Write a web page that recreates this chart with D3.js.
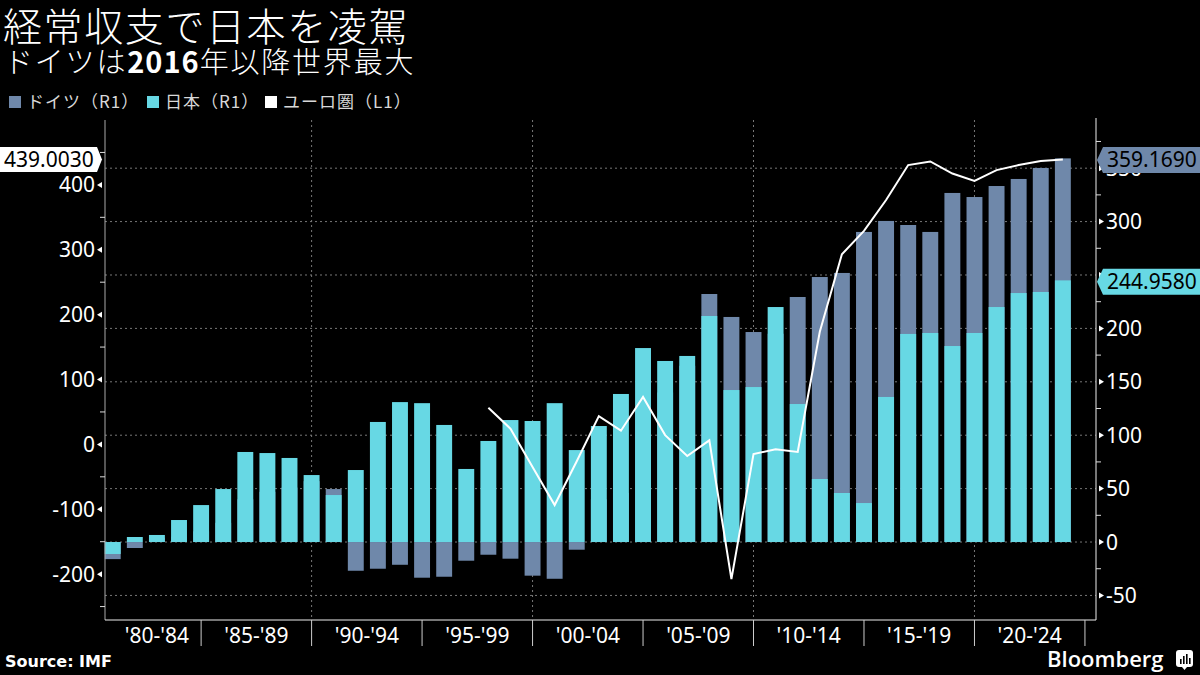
<!DOCTYPE html>
<html><head><meta charset="utf-8">
<script src="https://cdn.jsdelivr.net/npm/d3@7"></script>
<style>body{margin:0;background:#000;} svg{display:block;}</style>
</head><body>
<svg id="c" width="1200" height="675"></svg>
<script>
const years = d3.range(1980, 2024);
const germany = [-16, -5.6, 4, 5, 10, 18, 40, 47, 51, 57, 49.6, -26.9, -25, -21.3, -33.4, -32.5, -17.5, -11.9, -15.6, -31.5, -34.4, -7.2, 40, 46, 127, 140, 165, 232.2, 210.7, 196.6, 195, 229.4, 248.1, 251.9, 290.3, 300.6, 296.8, 290.3, 326.8, 323.0, 333.3, 339.9, 350.2, 359.169];
const japan = [-11.2, 4.7, 6.6, 20.6, 34.6, 49.6, 84.3, 83.3, 78.7, 62.7, 44.0, 67.4, 112.4, 131.0, 130.0, 109.6, 68.4, 94.6, 114.2, 113.3, 130.0, 86.1, 108.6, 138.6, 181.6, 169.5, 174.2, 211.6, 142.3, 145.1, 220.0, 129.2, 59.0, 45.9, 36.5, 135.8, 194.8, 195.7, 183.5, 195.7, 220.0, 233.1, 234.1, 244.958];
const euroYears = d3.range(1997, 2024);
const euro = [56.4, 24.2, -35, -93.5, -26, 43.6, 21.1, 73, 14.3, -18, 6.2, -207.7, -14.9, -7.6, -11.6, 173.5, 293, 329, 376.7, 430.5, 436.1, 417.5, 406.2, 422.8, 430.5, 436.7, 439.003];
const groupStarts = [1980, 1985, 1990, 1995, 2000, 2005, 2010, 2015, 2020];
const groupLabels = ["'80-'84", "'85-'89", "'90-'94", "'95-'99", "'00-'04", "'05-'09", "'10-'14", "'15-'19", "'20-'24"];
const leftTicks = [-200, -100, 0, 100, 200, 300, 400];
const leftMinor = [-250, -150, -50, 50, 150, 250, 350, 450];
const rightTicks = [-50, 0, 50, 100, 150, 200, 250, 300, 350];
const rightMinor = [-25, 25, 75, 125, 175, 225, 275, 325, 375];
const legendItems = [
  {label: "ドイツ（R1）", color: "#6f88aa"},
  {label: "日本（R1）", color: "#67d8e4"},
  {label: "ユーロ圏（L1）", color: "#ffffff"}
];

const GER = "#6f88aa", JPN = "#67d8e4";
const NUM = "'Noto Sans', 'Open Sans', sans-serif";
const CJK = "'Noto Sans CJK JP', 'Noto Sans', sans-serif";

const svg = d3.select('#c');
svg.append('rect').attr('width', 1200).attr('height', 675).attr('fill', '#000');

const L = 105, R = 1096, T = 120, B = 620;
const x = d3.scaleLinear().domain([1979.65, 2024.5]).range([L, R]);
const yL = d3.scaleLinear().domain([-270.7, 500]).range([B, T]);
const yR = d3.scaleLinear().domain([-73, 395.1]).range([B, T]);
const bw = (x(1) - x(0)) * 0.72;

// title
svg.append('text').attr('x', 3).attr('y', 41).attr('fill', '#fff')
  .style('font-family', CJK).style('font-size', '39px').style('font-weight', 300)
  .style('letter-spacing', '1.6px')
  .text('経常収支で日本を凌駕');
const sub = svg.append('text').attr('x', 4).attr('y', 73).attr('fill', '#fff')
  .style('font-family', CJK).style('font-size', '29px').style('font-weight', 300)
  .style('letter-spacing', '1.8px');
sub.append('tspan').text('ドイツは');
sub.append('tspan').style('font-weight', 700).style('letter-spacing', '1px').text('2016');
sub.append('tspan').text('年以降世界最大');

// legend
const legX = [9, 147, 265];
legendItems.forEach((d, i) => {
  svg.append('rect').attr('x', legX[i]).attr('y', 96).attr('width', 12).attr('height', 12).attr('fill', d.color);
  svg.append('text').attr('x', legX[i] + 18).attr('y', 108).attr('fill', '#d8d8d8')
    .style('font-family', CJK).style('font-size', '17px').style('letter-spacing', '1px').text(d.label);
});

// gridlines horizontal (right axis)
const grid = svg.append('g');
grid.selectAll('line.h').data(rightTicks).enter().append('line')
  .attr('x1', L).attr('x2', R).attr('y1', d => yR(d)).attr('y2', d => yR(d))
  .attr('stroke', '#777').attr('stroke-width', 1).attr('stroke-dasharray', '2,3');
// vertical gridlines
grid.selectAll('line.v').data([1989, 1999, 2009, 2019]).enter().append('line')
  .attr('x1', d => x(d)).attr('x2', d => x(d)).attr('y1', T).attr('y2', B)
  .attr('stroke', '#777').attr('stroke-width', 1).attr('stroke-dasharray', '2,3');

// bars
const bars = svg.append('g');
bars.selectAll('rect.g').data(years).enter().append('rect')
  .attr('x', (d) => x(d) - bw / 2).attr('width', bw)
  .attr('y', (d, i) => yR(Math.max(0, germany[i])))
  .attr('height', (d, i) => Math.abs(yR(germany[i]) - yR(0)))
  .attr('fill', GER);
bars.selectAll('rect.j').data(years).enter().append('rect')
  .attr('x', (d) => x(d) - bw / 2).attr('width', bw)
  .attr('y', (d, i) => yR(Math.max(0, japan[i])))
  .attr('height', (d, i) => Math.abs(yR(japan[i]) - yR(0)))
  .attr('fill', JPN);

// euro line
const line = d3.line().x((d, i) => x(euroYears[i])).y(d => yL(d));
svg.append('path').datum(euro).attr('d', line).attr('fill', 'none')
  .attr('stroke', '#fff').attr('stroke-width', 2).attr('stroke-linejoin', 'miter');

// axes lines
svg.append('line').attr('x1', L).attr('x2', L).attr('y1', T).attr('y2', B).attr('stroke', '#aaa');
svg.append('line').attr('x1', R).attr('x2', R).attr('y1', T - 2).attr('y2', B).attr('stroke', '#eee');
svg.append('line').attr('x1', L).attr('x2', R).attr('y1', B).attr('y2', B).attr('stroke', '#eee');

// left ticks
const la = svg.append('g');
leftMinor.forEach(v => {
  la.append('line').attr('x1', L - 5).attr('x2', L).attr('y1', yL(v)).attr('y2', yL(v)).attr('stroke', '#ddd');
});
leftTicks.forEach(v => {
  const y = yL(v);
  la.append('path').attr('d', `M${L - 8},${y}L${L - 3},${y - 3}L${L - 3},${y + 3}Z`).attr('fill', '#fff');
  la.append('text').attr('x', L - 10).attr('y', y).attr('dy', '0.36em').attr('text-anchor', 'end')
    .attr('fill', '#fff').style('font-family', NUM).style('font-size', '21px').text(v);
});
// right ticks
const ra = svg.append('g');
rightMinor.forEach(v => {
  ra.append('line').attr('x1', R).attr('x2', R + 5).attr('y1', yR(v)).attr('y2', yR(v)).attr('stroke', '#ddd');
});
const coveredRight = [250];
rightTicks.forEach(v => {
  const y = yR(v);
  ra.append('path').attr('d', `M${R + 8},${y}L${R + 3},${y - 3}L${R + 3},${y + 3}Z`).attr('fill', '#fff');
  if (coveredRight.includes(v)) return;
  ra.append('text').attr('x', R + 10).attr('y', y).attr('dy', '0.36em').attr('text-anchor', 'start')
    .attr('fill', '#fff').style('font-family', NUM).style('font-size', '21px').text(v);
});

// x axis separators and labels
const xa = svg.append('g');
groupStarts.forEach((g, i) => {
  const sepX = x(g + 4);
  xa.append('line').attr('x1', sepX).attr('x2', sepX).attr('y1', B).attr('y2', B + 26).attr('stroke', '#ccc');
  const left = Math.max(x(g - 1), x(1980));
  xa.append('text').attr('x', (left + sepX) / 2).attr('y', 643).attr('text-anchor', 'middle')
    .attr('fill', '#fff').style('font-family', NUM).style('font-size', '21px').text(groupLabels[i]);
});

// value labels
function leftLabel(val) {
  const y = yL(val);
  svg.append('path').attr('d', `M0,${y - 12.5}L97,${y - 12.5}L102,${y}L97,${y + 12.5}L0,${y + 12.5}Z`).attr('fill', '#fff');
  svg.append('text').attr('x', 4).attr('y', y).attr('dy', '0.36em').attr('fill', '#000')
    .style('font-family', NUM).style('font-size', '21px').text(val.toFixed(4));
}
function rightLabel(val, color) {
  const y = yR(val) + 1.5;
  svg.append('path').attr('d', `M${R + 1},${y}L${R + 7},${y - 13}L1200,${y - 13}L1200,${y + 13}L${R + 7},${y + 13}Z`).attr('fill', color);
  svg.append('text').attr('x', R + 11).attr('y', y).attr('dy', '0.36em').attr('fill', '#000')
    .style('font-family', NUM).style('font-size', '21px').text(val.toFixed(4));
}
leftLabel(euro[euro.length - 1]);
rightLabel(germany[germany.length - 1], GER);
rightLabel(japan[japan.length - 1], JPN);

// footer
svg.append('text').attr('x', 5).attr('y', 667).attr('fill', '#fff')
  .style('font-family', "'DejaVu Sans', sans-serif").style('font-weight', 700).style('font-size', '16px').text('Source: IMF');
svg.append('text').attr('x', 1047).attr('y', 667).attr('fill', '#fff')
  .style('font-family', "'Open Sans', sans-serif").style('font-weight', 600).style('font-size', '22px').text('Bloomberg');
const ic = svg.append('g').attr('transform', 'translate(1176,650)');
ic.append('rect').attr('width', 17).attr('height', 17).attr('rx', 3).attr('fill', '#fff');
ic.append('path').attr('d', 'M6,17 L8.5,20 L11,17 Z').attr('fill', '#fff');
[[4, 9, 5], [7, 6, 8], [10, 4, 10], [13, 8, 6]].forEach(b => {
  ic.append('rect').attr('x', b[0]).attr('y', b[1]).attr('width', 1.6).attr('height', b[2]).attr('fill', '#000');
});
</script>
</body></html>
